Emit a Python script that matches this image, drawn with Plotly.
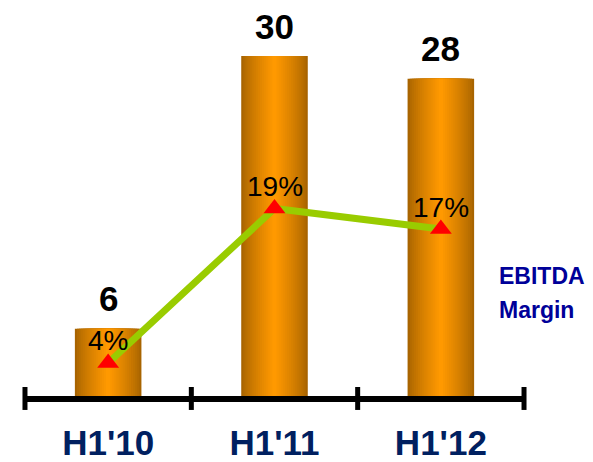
import plotly.graph_objects as go

# ---- data ----
categories = ["H1'10", "H1'11", "H1'12"]
ebitda_values = [6, 30, 28]
margin_values = [4, 19, 17]
bar_labels = ["6", "30", "28"]
margin_labels = ["4%", "19%", "17%"]

FONT = "Liberation Sans, Arial, sans-serif"


def lerp_color(c1, c2, t):
    return "rgb({},{},{})".format(*[round(a + (b - a) * t) for a, b in zip(c1, c2)])


fig = go.Figure()

# gradient bars built from overlaid bars of decreasing width
dark = (168, 100, 0)
bright = (255, 153, 0)
n_layers = 16
bar_width = 0.40
for k in range(n_layers):
    t = k / (n_layers - 1)
    w = bar_width * (1 - k / n_layers)
    fig.add_trace(go.Bar(
        x=categories, y=ebitda_values, width=w,
        marker=dict(color=lerp_color(dark, bright, t ** 0.8), line=dict(width=0)),
        hoverinfo="skip", showlegend=False, yaxis="y",
    ))

# EBITDA margin line
fig.add_trace(go.Scatter(
    x=categories, y=margin_values, yaxis="y2", mode="lines+markers",
    line=dict(color="#99CC00", width=7),
    marker=dict(symbol="triangle-up", size=19, color="#FF0000"),
    showlegend=False, hoverinfo="skip",
))

annotations = []
for c, v, lab in zip(categories, ebitda_values, bar_labels):
    annotations.append(dict(x=c, y=v, xref="x", yref="y", text=lab, showarrow=False,
                            yanchor="middle", yshift=30,
                            font=dict(family=FONT, size=35, color="#000000", weight="bold")))
for c, v, lab in zip(categories, margin_values, margin_labels):
    annotations.append(dict(x=c, y=v, xref="x", yref="y2", text=lab, showarrow=False,
                            yanchor="middle", yshift=22,
                            font=dict(family=FONT, size=28, color="#000000")))
annotations.append(dict(x=0.929, y=0.335, xref="paper", yref="paper", text="EBITDA",
                        showarrow=False, xanchor="left", yanchor="middle",
                        font=dict(family=FONT, size=23, color="#000099", weight="bold")))
annotations.append(dict(x=0.929, y=0.252, xref="paper", yref="paper", text="Margin",
                        showarrow=False, xanchor="left", yanchor="middle",
                        font=dict(family=FONT, size=23, color="#000099", weight="bold")))

# axis baseline with tick marks at category boundaries
n = len(categories)
shapes = [dict(type="line", xref="x", yref="y", x0=-0.5, x1=n - 0.5, y0=-0.176, y1=-0.176,
               line=dict(color="#000000", width=6))]
for i in range(n + 1):
    xb = i - 0.5
    shapes.append(dict(type="line", xref="x", yref="y", x0=xb, x1=xb, y0=0.88, y1=-1.14,
                       line=dict(color="#000000", width=5)))

fig.update_layout(
    width=593, height=462,
    margin=dict(l=15, r=59, t=0, b=47),
    paper_bgcolor="white", plot_bgcolor="white",
    barmode="overlay",
    showlegend=False,
    annotations=annotations,
    shapes=shapes,
    xaxis=dict(type="category", range=[-0.56, n - 0.44], showgrid=False, zeroline=False,
               showline=False, ticks="", automargin=False,
               tickfont=dict(family=FONT, size=35, color="#002060", weight="bold"),
               ticklabelstandoff=4),
    yaxis=dict(range=[-1.584, 34.93], visible=False, showgrid=False, zeroline=False,
               automargin=False),
    yaxis2=dict(range=[-1.05, 39.24], overlaying="y", visible=False, showgrid=False,
                zeroline=False, automargin=False),
)

fig.write_html("out.html")
